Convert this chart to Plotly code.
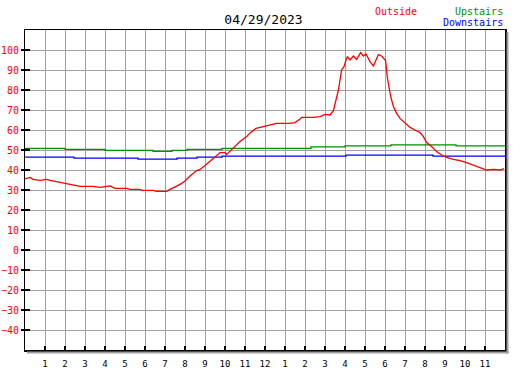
import plotly.graph_objects as go

# ---------------- data ----------------
title_text = "04/29/2023"
series_names = ["Outside", "Upstairs", "Downstairs"]
series_colors = ["#ff0000", "#009000", "#0000ff"]

outside_hours = [0.0, 0.05, 0.25, 0.4, 0.75, 1.08, 1.25, 1.58, 2.08, 2.58, 2.75, 3.4, 3.75,
                 4.08, 4.25, 4.5, 5.08, 5.25, 5.75, 5.83, 6.4, 6.58, 7.08, 7.25, 7.5, 7.75,
                 8.0, 8.25, 8.58, 8.75, 9.0, 9.25, 9.5, 9.75, 10.0, 10.08, 10.25, 10.58,
                 10.75, 11.08, 11.25, 11.55, 12.0, 12.25, 12.58, 13.17, 13.5, 13.75, 13.83,
                 14.42, 14.75, 15.0, 15.25, 15.42, 15.55, 15.67, 15.83, 15.95, 16.05, 16.12,
                 16.25, 16.42, 16.58, 16.78, 16.92, 17.05, 17.25, 17.42, 17.55, 17.67, 17.83,
                 18.03, 18.12, 18.18, 18.28, 18.42, 18.58, 18.75, 19.0, 19.25, 19.5, 19.75,
                 19.92, 20.08, 20.33, 20.58, 20.83, 21.08, 21.42, 21.75, 22.08, 22.42, 22.75,
                 23.08, 23.42, 23.75, 23.95]
outside_temps = [35.7, 35.7, 36.3, 35.3, 34.8, 35.3, 34.8, 34.2, 33.3, 32.3, 31.8, 31.8, 31.3,
                 31.8, 32.0, 30.8, 30.8, 30.3, 30.3, 29.8, 29.8, 29.3, 29.3, 30.3, 31.5, 32.8,
                 34.5, 37.0, 39.7, 40.3, 42.3, 44.2, 46.5, 48.7, 48.7, 47.8, 49.5, 52.8,
                 54.2, 56.7, 58.5, 60.8, 62.0, 62.5, 63.3, 63.3, 63.7, 65.5, 66.3,
                 66.3, 66.7, 67.8, 67.5, 69.7, 75.0, 80.0, 90.0, 91.7, 95.0, 96.7,
                 95.0, 97.0, 95.3, 98.7, 97.0, 98.0, 94.2, 92.0, 95.0, 97.7, 97.0,
                 94.7, 86.0, 81.7, 77.0, 71.7, 68.3, 65.8, 63.3, 61.3, 60.0, 58.7,
                 56.7, 53.7, 51.7, 49.2, 47.5, 46.3, 45.3, 44.7, 43.7, 42.5, 41.3,
                 40.0, 40.3, 40.0, 40.7]

upstairs_hours = [0.0, 2.0, 4.0, 6.4, 7.35, 8.1, 9.85, 14.3, 16.0, 18.3, 21.55, 24.0]
upstairs_temps = [50.8, 50.3, 49.8, 49.3, 49.8, 50.3, 50.8, 51.6, 52.1, 52.6, 52.1, 52.1]

downstairs_hours = [0.0, 2.45, 5.65, 7.6, 8.6, 9.85, 16.05, 20.4, 24.0]
downstairs_temps = [46.4, 45.9, 45.4, 45.9, 46.4, 46.9, 47.4, 46.9, 46.9]

x_tick_vals = list(range(1, 24))
x_tick_text = ["1", "2", "3", "4", "5", "6", "7", "8", "9", "10", "11", "12",
               "1", "2", "3", "4", "5", "6", "7", "8", "9", "10", "11"]
y_tick_vals = list(range(-40, 101, 10))
x_range = [0, 24]
y_range = [-50, 110]

# ---------------- figure ----------------
MONO = "DejaVu Sans Mono"
GRID = "#a0a0a0"

fig = go.Figure()
fig.add_trace(go.Scatter(x=upstairs_hours, y=upstairs_temps, mode="lines",
                         line=dict(color=series_colors[1], width=1.3, shape="hv"),
                         name=series_names[1], showlegend=False, hoverinfo="skip"))
fig.add_trace(go.Scatter(x=downstairs_hours, y=downstairs_temps, mode="lines",
                         line=dict(color=series_colors[2], width=1.3, shape="hv"),
                         name=series_names[2], showlegend=False, hoverinfo="skip"))
fig.add_trace(go.Scatter(x=outside_hours, y=outside_temps, mode="lines",
                         line=dict(color=series_colors[0], width=1.3),
                         name=series_names[0], showlegend=False, hoverinfo="skip"))
# invisible trace so yaxis2 (outer tick marks + labels) is drawn
fig.add_trace(go.Scatter(x=[None], y=[None], yaxis="y2", showlegend=False, hoverinfo="skip"))

W, H = 527, 370
L, R, T, B = 25, 22, 30, 20
pw, ph = W - L - R, H - T - B

fig.update_layout(
    width=W, height=H,
    margin=dict(l=L, r=R, t=T, b=B, pad=0, autoexpand=False),
    paper_bgcolor="white", plot_bgcolor="white",
    showlegend=False,
    font=dict(family=MONO, size=10, color="black"),
    title=dict(text=title_text, x=0.5, xanchor="center", xref="container",
               y=1 - 19 / H, yanchor="middle", yref="container", automargin=False,
               font=dict(family=MONO, size=13, color="black")),
    xaxis=dict(range=x_range, tickmode="array", tickvals=x_tick_vals, ticktext=x_tick_text,
               showgrid=True, gridcolor=GRID, gridwidth=1, zeroline=False,
               ticks="inside", ticklen=4, tickwidth=1.3, tickcolor="black",
               showline=True, mirror=True, linecolor="black", linewidth=1.5,
               tickfont=dict(family=MONO, size=9, color="black"),
               ticklabelstandoff=5, automargin=False, fixedrange=True),
    yaxis=dict(range=y_range, tickmode="array", tickvals=y_tick_vals,
               showgrid=True, gridcolor=GRID, gridwidth=1, zeroline=False,
               ticks="inside", ticklen=5, tickwidth=1.3, tickcolor="black",
               showticklabels=False,
               showline=True, mirror=True, linecolor="black", linewidth=1.5,
               automargin=False, fixedrange=True),
    yaxis2=dict(range=y_range, overlaying="y", side="left", anchor="x",
                tickmode="array", tickvals=y_tick_vals,
                showgrid=False, zeroline=False, showline=False,
                ticks="outside", ticklen=3, tickwidth=1.3, tickcolor="black",
                tickfont=dict(family=MONO, size=10, color="#ff0000"),
                automargin=False, fixedrange=True),
)

# drop shadow on right and bottom edges
fig.add_shape(type="line", xref="paper", yref="paper",
              x0=1 + 2.5 / pw, x1=1 + 2.5 / pw, y0=-3.5 / ph, y1=1 - 2 / ph,
              line=dict(color=GRID, width=2))
fig.add_shape(type="line", xref="paper", yref="paper",
              x0=2 / pw, x1=1 + 3.5 / pw, y0=-2.5 / ph, y1=-2.5 / ph,
              line=dict(color=GRID, width=2))

# legend text
fig.add_annotation(text=series_names[0], xref="paper", yref="paper",
                   x=(372.5 - L) / pw, y=1 + 19 / ph, xanchor="left", yanchor="middle",
                   showarrow=False, font=dict(family=MONO, size=10, color=series_colors[0]))
fig.add_annotation(text=series_names[1], xref="paper", yref="paper",
                   x=(504.5 - L) / pw, y=1 + 19 / ph, xanchor="right", yanchor="middle",
                   showarrow=False, font=dict(family=MONO, size=10, color=series_colors[1]))
fig.add_annotation(text=series_names[2], xref="paper", yref="paper",
                   x=(504.5 - L) / pw, y=1 + 7 / ph, xanchor="right", yanchor="middle",
                   showarrow=False, font=dict(family=MONO, size=10, color=series_colors[2]))

fig.write_html("out.html",
               config={"displayModeBar": False, "staticPlot": True},
               post_script="document.body.style.margin='0';"
                           "document.documentElement.style.overflow='hidden';")
